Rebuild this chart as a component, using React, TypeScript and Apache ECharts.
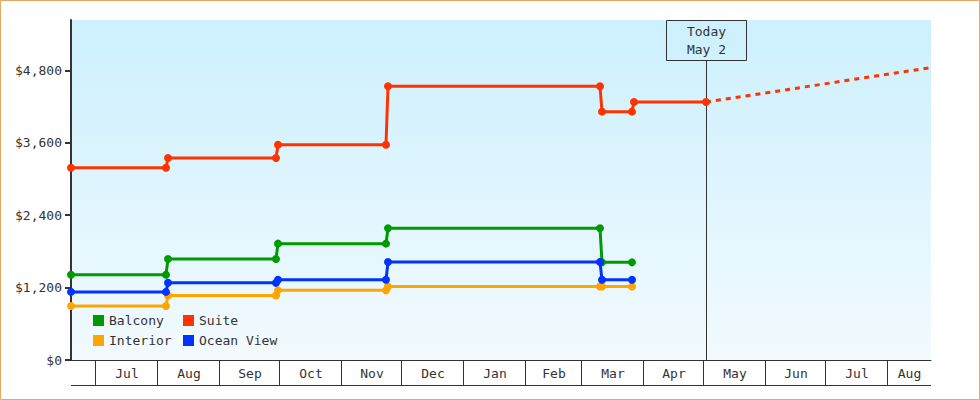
import React, { useEffect, useRef } from 'react';
import * as echarts from 'echarts';

// 坐标轴范围与今天
const AXIS_START = '2014-06-18 12:00';
const AXIS_END = '2015-08-22 12:00';
const TODAY = '2015-05-02';

// 价格变动日期（每次变动前后各一个点）
const stepDates = [
  AXIS_START, '2014-08-05', '2014-08-06', '2014-09-29', '2014-09-30',
  '2014-11-23', '2014-11-24', '2015-03-10', '2015-03-11', '2015-03-26'
];
const suiteDates = [...stepDates, '2015-03-27', TODAY];

const balcony = [1415, 1415, 1675, 1675, 1930, 1930, 2185, 2185, 1620, 1620];
const interior = [895, 895, 1070, 1070, 1155, 1155, 1220, 1220, 1220, 1220];
const oceanView = [1130, 1130, 1280, 1280, 1330, 1330, 1625, 1625, 1330, 1330];
const suite = [3190, 3190, 3350, 3350, 3570, 3570, 4540, 4540, 4120, 4120, 4280, 4280];

// 预测（虚线）
const forecastDates = [TODAY, AXIS_END];
const suiteForecast = [4280, 4850];

const monthStarts = [
  '2014-06-01', '2014-07-01', '2014-08-01', '2014-09-01', '2014-10-01', '2014-11-01',
  '2014-12-01', '2015-01-01', '2015-02-01', '2015-03-01', '2015-04-01', '2015-05-01',
  '2015-06-01', '2015-07-01', '2015-08-01', '2015-09-01'
];
const monthNames = ['Jan', 'Feb', 'Mar', 'Apr', 'May', 'Jun', 'Jul', 'Aug', 'Sep', 'Oct', 'Nov', 'Dec'];

const yTicks = [0, 1200, 2400, 3600, 4800];
const Y_MAX = 5640;

const FONT_FAMILY = "'DejaVu Sans Mono', monospace";
const FONT = `13px ${FONT_FAMILY}`;
const INK = '#333';

const COLORS = {
  balcony: '#009a00',
  suite: '#ff3300',
  interior: '#ffa500',
  oceanView: '#0033ff'
};

const pairs = (dates: string[], values: number[]) => dates.map((d, i) => [d, values[i]]);

const monthCells = monthStarts.slice(0, -1).map((d, i) => [d, monthStarts[i + 1]]);
const monthLabels = monthStarts.slice(0, -1).map(d => monthNames[+d.slice(5, 7) - 1]);

const todayLabel = `Today\n${monthNames[+TODAY.slice(5, 7) - 1]} ${+TODAY.slice(8, 10)}`;

const stepSeries = (name: string, dates: string[], values: number[], color: string) => ({
  name,
  type: 'line',
  data: pairs(dates, values),
  symbol: 'circle',
  symbolSize: 8,
  showAllSymbol: true,
  lineStyle: { color, width: 3 },
  itemStyle: { color },
  z: 3
});

const legendBase = {
  orient: 'vertical',
  top: 314,
  padding: 0,
  icon: 'rect',
  itemWidth: 11,
  itemHeight: 11,
  itemGap: 7,
  textStyle: { fontFamily: FONT_FAMILY, fontSize: 13, color: INK }
};

const App: React.FC = () => {
  const chartRef = useRef<HTMLDivElement>(null);

  useEffect(() => {
    if (!chartRef.current) return;
    const chart = echarts.init(chartRef.current, null, { renderer: 'svg' });

    const option: any = {
      animation: false,
      backgroundColor: '#fff',
      textStyle: { fontFamily: FONT_FAMILY },
      graphic: [
        {
          type: 'rect',
          shape: { x: 0.5, y: 0.5, width: 979, height: 399 },
          style: { fill: 'none', stroke: '#e8a860', lineWidth: 1 },
          silent: true
        }
      ],
      legend: [
        { ...legendBase, left: 93, data: ['Balcony', 'Interior'] },
        { ...legendBase, left: 183, data: ['Suite', 'Ocean View'] }
      ],
      grid: {
        left: 71,
        right: 49,
        top: 20,
        bottom: 40,
        show: true,
        borderWidth: 0,
        backgroundColor: new echarts.graphic.LinearGradient(0, 0, 0, 1, [
          { offset: 0, color: '#ccf0fd' },
          { offset: 1, color: '#f2faff' }
        ])
      },
      xAxis: {
        type: 'time',
        min: AXIS_START,
        max: AXIS_END,
        axisLine: { show: true, lineStyle: { color: INK, width: 1 } },
        axisTick: { show: false },
        axisLabel: { show: false },
        splitLine: { show: false }
      },
      yAxis: {
        type: 'value',
        min: 0,
        max: Y_MAX,
        axisLine: { show: true, lineStyle: { color: INK, width: 2 } },
        axisTick: { show: false },
        axisLabel: {
          customValues: yTicks,
          margin: 9,
          color: INK,
          fontFamily: FONT_FAMILY,
          fontSize: 13,
          formatter: (v: number) => '$' + v.toLocaleString('en-US')
        },
        splitLine: { show: false }
      },
      series: [
        {
          // y 轴刻度线
          name: 'yTicks',
          type: 'custom',
          clip: false,
          silent: true,
          encode: { x: 0, y: 1 },
          data: yTicks.map(v => [AXIS_START, v]),
          renderItem: (params: any, api: any) => {
            const p = api.coord([api.value(0), api.value(1)]);
            const y = Math.round(p[1]);
            return {
              type: 'line',
              shape: { x1: p[0] - 6, y1: y, x2: p[0], y2: y },
              style: { stroke: INK, lineWidth: 2 }
            };
          }
        },
        {
          name: 'months',
          type: 'custom',
          clip: false,
          silent: true,
          encode: { x: [0, 1] },
          data: monthCells,
          renderItem: (params: any, api: any) => {
            const cs = params.coordSys;
            const a = api.coord([api.value(0), 0]);
            const b = api.coord([api.value(1), 0]);
            const left = Math.max(a[0], cs.x);
            const right = Math.min(b[0], cs.x + cs.width);
            const y = a[1];
            const children: any[] = [
              {
                type: 'line',
                shape: { x1: left, y1: y + 25.5, x2: right, y2: y + 25.5 },
                style: { stroke: INK, lineWidth: 1 }
              }
            ];
            if (a[0] > cs.x && a[0] <= cs.x + cs.width) {
              const xs = Math.round(a[0]) - 0.5;
              children.push({
                type: 'line',
                shape: { x1: xs, y1: y, x2: xs, y2: y + 25.5 },
                style: { stroke: INK, lineWidth: 1 }
              });
            }
            if (right - left > 30) {
              children.push({
                type: 'text',
                x: (left + right) / 2,
                y: y + 13.5,
                style: {
                  text: monthLabels[params.dataIndex],
                  align: 'center',
                  verticalAlign: 'middle',
                  font: FONT,
                  fill: INK
                }
              });
            }
            return { type: 'group', children };
          }
        },
        {
          name: 'today',
          type: 'custom',
          clip: false,
          silent: true,
          encode: { x: 0 },
          data: [[TODAY]],
          z: 2,
          renderItem: (params: any, api: any) => {
            const cs = params.coordSys;
            const p = api.coord([api.value(0), 0]);
            const x = Math.round(p[0]) + 0.5;
            const top = cs.y + 0.5;
            return {
              type: 'group',
              children: [
                {
                  type: 'line',
                  shape: { x1: x, y1: top + 40, x2: x, y2: p[1] },
                  style: { stroke: INK, lineWidth: 1 }
                },
                {
                  type: 'rect',
                  shape: { x: x - 40, y: top, width: 80, height: 40 },
                  style: { fill: 'none', stroke: INK, lineWidth: 1 }
                },
                {
                  type: 'text',
                  x,
                  y: top + 20,
                  style: {
                    text: todayLabel,
                    align: 'center',
                    verticalAlign: 'middle',
                    lineHeight: 18,
                    font: FONT,
                    fill: INK
                  }
                }
              ]
            };
          }
        },
        {
          name: 'Suite forecast',
          type: 'line',
          data: pairs(forecastDates, suiteForecast),
          symbol: 'none',
          lineStyle: { color: COLORS.suite, width: 3, type: [5, 5] },
          z: 3
        },
        stepSeries('Balcony', stepDates, balcony, COLORS.balcony),
        stepSeries('Interior', stepDates, interior, COLORS.interior),
        stepSeries('Ocean View', stepDates, oceanView, COLORS.oceanView),
        stepSeries('Suite', suiteDates, suite, COLORS.suite)
      ]
    };

    chart.setOption(option);

    return () => {
      chart.dispose();
    };
  }, []);

  return (
    <div
      ref={chartRef}
      style={{ position: 'fixed', left: 0, top: 0, width: 980, height: 400 }}
    />
  );
};

export default App;
